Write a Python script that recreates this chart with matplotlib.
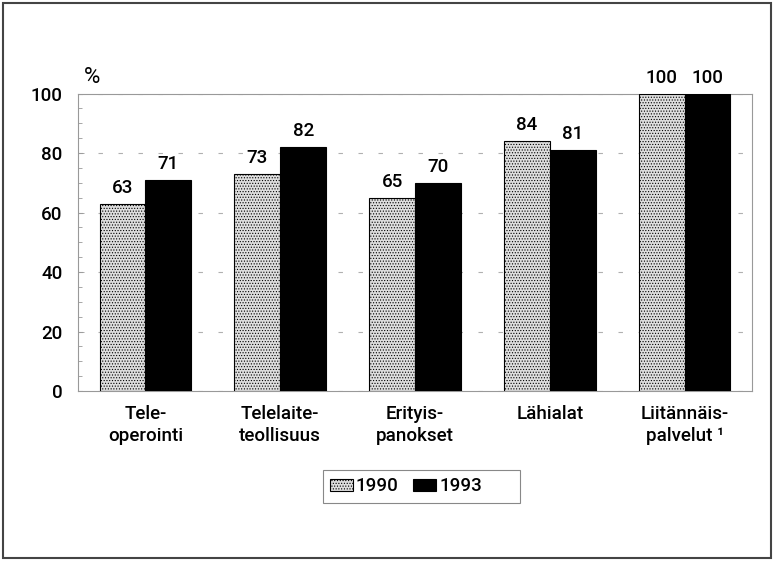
import matplotlib.pyplot as plt
import numpy as np
from matplotlib.patches import Rectangle

plt.rcParams['font.family'] = ['Roboto', 'DejaVu Sans']
plt.rcParams['font.weight'] = 'medium'
plt.rcParams['hatch.color'] = '#bdbdbd'
plt.rcParams['hatch.linewidth'] = 0.5

categories = ['Tele-\noperointi', 'Telelaite-\nteollisuus', 'Erityis-\npanokset',
              'Lähialat', 'Liitännäis-\npalvelut ¹']
v1990 = [63, 73, 65, 84, 100]
v1993 = [71, 82, 70, 81, 100]

fig = plt.figure(figsize=(7.74, 5.61), dpi=100)
ax = fig.add_axes([0.1008, 0.303, 0.8708, 0.5303])

x = np.arange(len(categories))
w = 0.34
b1 = ax.bar(x - w/2, v1990, w, color='#dedede', edgecolor='black', linewidth=0.8,
            hatch='......', label='1990', zorder=3)
b2 = ax.bar(x + w/2, v1993, w, color='black', edgecolor='black', linewidth=0.8,
            label='1993', zorder=3)
for bars in (b1, b2):
    for r in bars:
        ax.annotate(f'{r.get_height():.0f}', (r.get_x() + r.get_width()/2, r.get_height()),
                    xytext=(0, 5), textcoords='offset points', ha='center', va='bottom',
                    fontsize=13.5)

ax.set_xlim(-0.5, len(categories) - 0.5)
ax.set_ylim(0, 100)
ax.set_yticks(np.arange(0, 101, 20))
ax.set_yticks(np.arange(0, 101, 5), minor=True)
ax.tick_params(axis='y', which='major', direction='in', length=4, width=0.6,
               color='#999999', labelsize=13.5, pad=11)
ax.tick_params(axis='y', which='minor', direction='in', length=3, width=0.6, color='#999999')
ax.set_xticks(x)
ax.set_xticklabels(categories, fontsize=13.5, linespacing=1.3)
ax.tick_params(axis='x', length=0, pad=10)
ax.grid(axis='y', which='major', color='#b0b0b0', linestyle=(0, (4, 14)), linewidth=0.8, zorder=0)
for s in ax.spines.values():
    s.set_color('#999999')
    s.set_linewidth(0.8)

ax.text(0.008, 1.035, '%', transform=ax.transAxes, fontsize=16, ha='left', va='baseline',
        fontweight='normal')

# legend: content sits at the left, box is wider than the entries
leg = fig.legend(loc='center left', bbox_to_anchor=(0.4264, 0.1328), ncol=2, fontsize=13.5,
                 frameon=False, handlelength=1.2, handleheight=0.67, handletextpad=0.17,
                 columnspacing=0.8, borderpad=0, borderaxespad=0)
fig.patches.append(Rectangle((0.4173, 0.1034), 0.2545, 0.0588, transform=fig.transFigure,
                             fill=False, edgecolor='#888888', linewidth=0.8))

fig.patches.append(Rectangle((0.004, 0.005), 0.992, 0.99, transform=fig.transFigure,
                             fill=False, edgecolor='#444444', linewidth=1.5))

fig.savefig('out.png', dpi=100)
